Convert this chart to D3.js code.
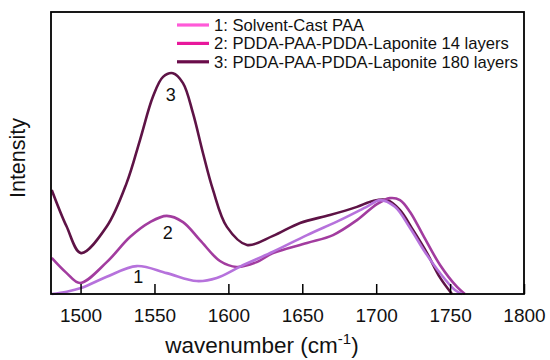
<!DOCTYPE html>
<html>
<head>
<meta charset="utf-8">
<script src="https://cdn.jsdelivr.net/npm/d3@7/dist/d3.min.js"></script>
<style>
  body { margin: 0; background: #fff; }
  svg text { font-family: "Liberation Sans", Arial, sans-serif; fill: #111; }
</style>
</head>
<body>
<div id="chart"></div>
<script>
// wavenumber (cm-1) and intensity (arbitrary units, 0-100)
var wn1 = [1480.5, 1490.6, 1500.3, 1517.7, 1538, 1558.3, 1578.6, 1592.1, 1607.9, 1630.2, 1653.2, 1675.5, 1693.8, 1702.6, 1712.7, 1722.9, 1733, 1743.2, 1753.3, 1758];
var int1 = [0, 0.8, 2.1, 6.1, 9.9, 7.4, 4.6, 5.7, 9.7, 15, 20.9, 26.2, 31, 33.3, 30.9, 23.4, 14.9, 7.4, 1.4, 0];

var wn2 = [1480.5, 1490.6, 1499.6, 1517.7, 1533.4, 1547, 1558.3, 1569.3, 1580.8, 1594.3, 1605.6, 1619.2, 1630.2, 1653.2, 1670.8, 1687, 1700.5, 1709.3, 1716.1, 1722.9, 1731.7, 1743.2, 1754.7, 1760];
var int2 = [12.8, 7.4, 3.9, 11.3, 20.2, 25.5, 27.7, 25.5, 19.1, 11.7, 9.6, 11.3, 14.5, 18.1, 20.9, 26.2, 31.9, 34, 33.3, 29.1, 20.9, 10.3, 2.5, 0];

var wn3 = [1480.5, 1490.5, 1500.3, 1517.7, 1531.2, 1540.2, 1549, 1555.8, 1562.5, 1569.3, 1576, 1582.8, 1589.6, 1599, 1612.6, 1630.2, 1648.5, 1668.7, 1687, 1697.8, 1707.3, 1716, 1724.9, 1734.4, 1743, 1751.3];
var int3 = [36.9, 24, 14.5, 23.9, 39.4, 54.6, 70, 77, 78.3, 74.8, 64.2, 50, 36.9, 23.8, 17.4, 20.6, 25.2, 28, 30.9, 33, 33.3, 29.8, 22.7, 14.5, 6, 0];

var seriesNames = ["1: Solvent-Cast PAA", "2: PDDA-PAA-PDDA-Laponite 14 layers", "3: PDDA-PAA-PDDA-Laponite 180 layers"];
var curveColors = ["#b672dc", "#a23c9f", "#5e1346"];
var legendColors = ["#ff5ad8", "#e8189c", "#6a0c4a"];
var xTicks = [1500, 1550, 1600, 1650, 1700, 1750, 1800];
// number tags placed next to each curve: [wavenumber, intensity]
var tagPos = [[1539, 4], [1559, 19.5], [1561, 68.5]];

var W = 550, H = 360;
var marg = { top: 12, right: 26, bot: 66, left: 51 };

var svg = d3.select("#chart").append("svg")
  .attr("width", W)
  .attr("height", H);

var xScale = d3.scaleLinear().domain([1480, 1800]).range([marg.left, W - marg.right]);
var yScale = d3.scaleLinear().domain([0, 100]).range([H - marg.bot, marg.top]);

var series = [
  { name: seriesNames[0], wn: wn1, val: int1 },
  { name: seriesNames[1], wn: wn2, val: int2 },
  { name: seriesNames[2], wn: wn3, val: int3 }
];

var line = d3.line()
  .x(function(d) { return xScale(d[0]); })
  .y(function(d) { return yScale(d[1]); })
  .curve(d3.curveCatmullRom.alpha(0.5));

// draw 3 first so the lighter ones sit on top like in the original
[2, 1, 0].forEach(function(i) {
  var s = series[i];
  var pts = s.wn.map(function(w, k) { return [w, s.val[k]]; });
  svg.append("path")
    .attr("d", line(pts))
    .attr("fill", "none")
    .attr("stroke", curveColors[i])
    .attr("stroke-width", 2.6)
    .attr("stroke-linejoin", "round");
});

// curve number tags
svg.selectAll(".tag")
  .data(tagPos)
  .enter()
  .append("text")
  .attr("class", "tag")
  .attr("x", function(d) { return xScale(d[0]); })
  .attr("y", function(d) { return yScale(d[1]); })
  .attr("text-anchor", "middle")
  .attr("font-size", 18)
  .text(function(d, i) { return String(i + 1); });

// x axis, ticks pointing inward
var xAxis = d3.axisBottom(xScale)
  .tickValues(xTicks)
  .tickSizeInner(-10)
  .tickSizeOuter(0)
  .tickPadding(15)
  .tickFormat(d3.format("d"));

var gx = svg.append("g")
  .attr("transform", "translate(0," + (H - marg.bot) + ")")
  .call(xAxis);
gx.select(".domain").remove();
gx.selectAll("line").attr("stroke", "#000").attr("stroke-width", 1.5);
gx.selectAll("text").attr("font-size", 19).attr("fill", "#111")
  .attr("font-family", "'Liberation Sans', Arial, sans-serif");

// frame
svg.append("rect")
  .attr("x", marg.left)
  .attr("y", marg.top)
  .attr("width", W - marg.left - marg.right)
  .attr("height", H - marg.top - marg.bot)
  .attr("fill", "none")
  .attr("stroke", "#000")
  .attr("stroke-width", 1.8);

// axis titles
var xt = svg.append("text")
  .attr("x", 262)
  .attr("y", 353)
  .attr("text-anchor", "middle")
  .attr("font-size", 22.5);
xt.append("tspan").text("wavenumber (cm");
xt.append("tspan").attr("font-size", 15).attr("dy", -9).text("-1");
xt.append("tspan").attr("dy", 9).text(")");

svg.append("text")
  .attr("transform", "translate(25,158) rotate(-90)")
  .attr("text-anchor", "middle")
  .attr("font-size", 21.5)
  .text("Intensity");

// legend
var leg = svg.append("g").attr("transform", "translate(177,25)");
var legRow = leg.selectAll("g")
  .data(series)
  .enter()
  .append("g")
  .attr("transform", function(d, i) { return "translate(0," + (i * 18.4) + ")"; });

legRow.append("line")
  .attr("x1", 0).attr("x2", 32)
  .attr("y1", 0).attr("y2", 0)
  .attr("stroke", function(d, i) { return legendColors[i]; })
  .attr("stroke-width", 3.2);

legRow.append("text")
  .attr("x", 37)
  .attr("y", 5.8)
  .attr("font-size", 16.6)
  .text(function(d) { return d.name; });
</script>
</body>
</html>
